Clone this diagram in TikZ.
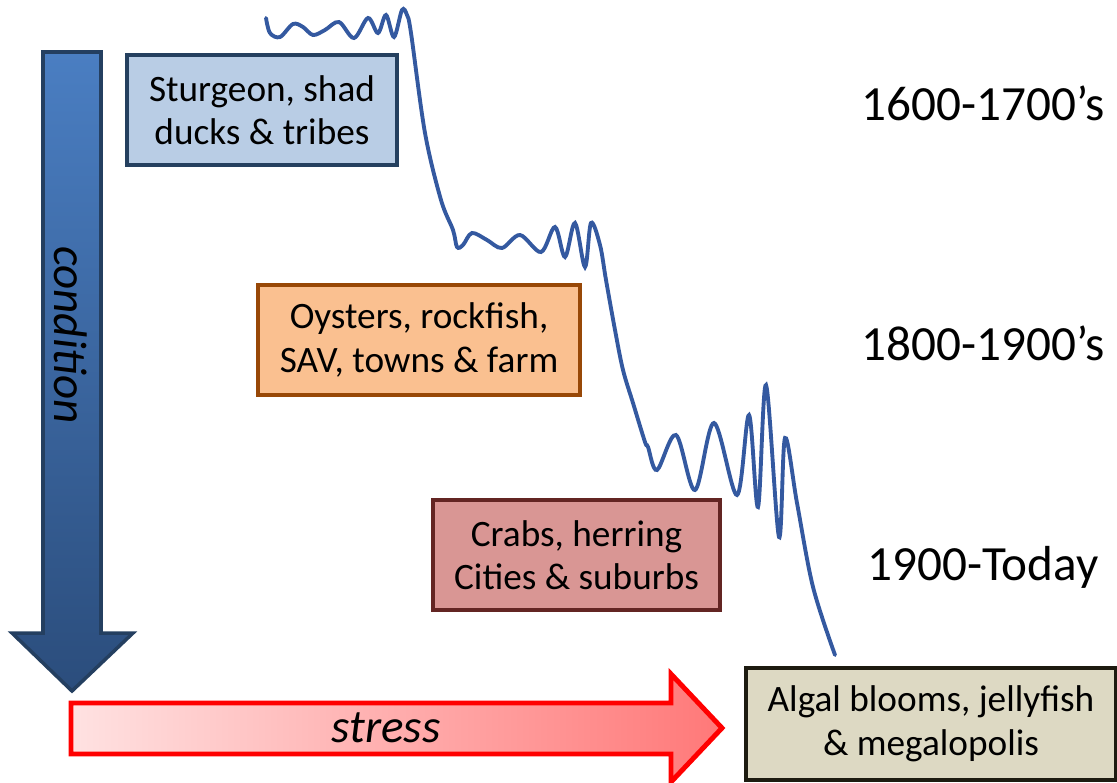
\documentclass[tikz,border=0pt]{standalone}
\usepackage{fontspec}
\setmainfont{Carlito}
\usepackage{tikz}
\usepackage{color}

\definecolor{curveblue}{HTML}{3459A0}
\definecolor{navy}{HTML}{243F60}
\definecolor{arrowtop}{HTML}{4A7EC2}
\definecolor{arrowbot}{HTML}{2B4D7C}
\definecolor{fillA}{HTML}{B9CDE5}
\definecolor{lineA}{HTML}{25405F}
\definecolor{fillB}{HTML}{FAC090}
\definecolor{lineB}{HTML}{984807}
\definecolor{fillC}{HTML}{D99694}
\definecolor{lineC}{HTML}{632523}
\definecolor{fillD}{HTML}{DDD9C3}
\definecolor{lineD}{HTML}{1D1B10}
\definecolor{stressleft}{HTML}{FFE2E2}
\definecolor{stressright}{HTML}{FF7878}

\tikzset{
	box/.style={draw, line width=1.1pt, align=center, inner sep=0pt,
		minimum height=1.10cm, font=\fontsize{10.6}{12.4}\selectfont},
	era/.style={font=\fontsize{14}{16}\selectfont},
	axislabel/.style={font=\fontsize{13.4}{16}\selectfont\itshape}
}

\begin{document}
\begin{tikzpicture}
	\useasboundingbox (0,0) rectangle (11.17,-7.82);
	% condition arrow
	\shade[top color=arrowtop,bottom color=arrowbot,draw=navy,line width=1pt,line join=miter]
		(0.43,-0.52) -- (1.01,-0.52) -- (1.01,-6.33) -- (1.33,-6.33) -- (0.72,-6.91)
		-- (0.12,-6.33) -- (0.43,-6.33) -- cycle;
	\node[axislabel,rotate=-90] (condition) at (0.71,-3.35) {condition};
	% stress arrow
	\shade[left color=stressleft,right color=stressright,draw=red,line width=1.4pt,line join=miter]
		(0.71,-7.03) -- (6.71,-7.03) -- (6.71,-6.74) -- (7.22,-7.28) -- (6.71,-7.82)
		-- (6.71,-7.54) -- (0.71,-7.54) -- cycle;
	\node[axislabel] (stress) at (3.86,-7.28) {stress};
	% boxes
	\node[box,fill=fillA,draw=lineA,minimum width=2.70cm] (sturgeon) at (2.62,-1.10) {Sturgeon, shad\\ducks \& tribes};
	\node[box,fill=fillB,draw=lineB,minimum width=3.22cm] (oysters) at (4.19,-3.40) {Oysters, rockfish,\\SAV, towns \& farm};
	\node[box,fill=fillC,draw=lineC,minimum width=2.87cm] (crabs) at (5.765,-5.55) {Crabs, herring\\Cities \& suburbs};
	\node[box,fill=fillD,draw=lineD,minimum width=3.70cm,minimum height=1.12cm] (algal) at (9.31,-7.24) {Algal blooms, jellyfish\\\& megalopolis};
	% eras
	\node[era] (era1) at (9.83,-1.03) {1600-1700’s};
	\node[era] (era2) at (9.83,-3.43) {1800-1900’s};
	\node[era] (era3) at (9.83,-5.67) {1900-Today};
	% condition curve
	\draw[curveblue,line width=1.1pt,line cap=round] plot[smooth,tension=0.55] coordinates {
		(2.66,-0.18) (2.70,-0.33) (2.80,-0.37) (2.93,-0.24) (3.03,-0.27) (3.13,-0.35)
		(3.25,-0.30) (3.39,-0.22) (3.54,-0.38) (3.68,-0.18) (3.78,-0.33) (3.86,-0.15)
		(3.94,-0.37) (4.02,-0.10) (4.07,-0.15) (4.11,-0.33) (4.25,-1.33) (4.41,-2.00)
		(4.53,-2.30) (4.57,-2.47) (4.63,-2.45) (4.72,-2.33) (4.87,-2.40) (5.02,-2.48)
		(5.20,-2.35) (5.41,-2.52) (5.55,-2.27) (5.65,-2.57) (5.75,-2.23) (5.85,-2.67)
		(5.91,-2.23) (6.00,-2.45) (6.06,-2.80) (6.15,-3.30) (6.23,-3.70) (6.33,-4.03)
		(6.45,-4.42) (6.48,-4.47) (6.57,-4.70) (6.76,-4.35) (6.95,-4.90) (7.14,-4.23)
		(7.37,-4.95) (7.49,-4.15) (7.58,-5.07) (7.66,-3.85) (7.79,-5.37) (7.85,-4.38)
		(7.97,-5.03) (8.13,-5.87) (8.35,-6.55)};
\end{tikzpicture}
\end{document}
